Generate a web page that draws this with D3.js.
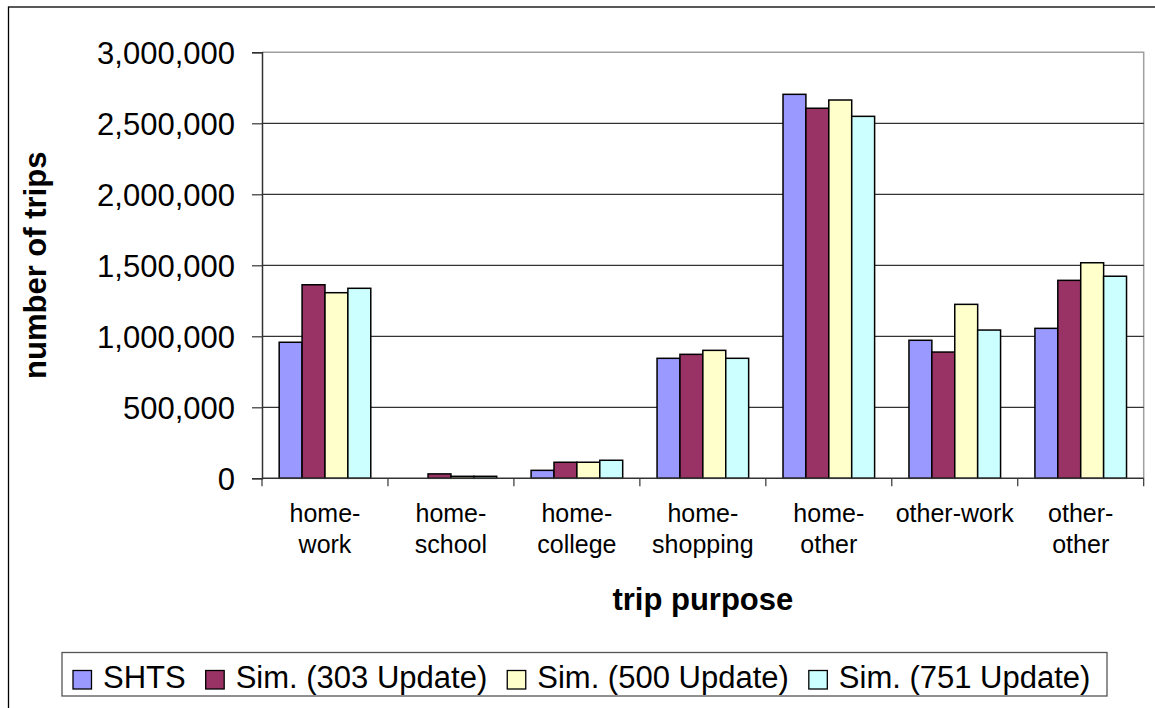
<!DOCTYPE html>
<html>
<head>
<meta charset="utf-8">
<script src="https://cdn.jsdelivr.net/npm/d3@7/dist/d3.min.js"></script>
<style>
  html, body { margin: 0; padding: 0; background: #fff; }
  svg { display: block; font-family: "Liberation Sans", Arial, sans-serif; }
</style>
</head>
<body>
<svg id="chart" width="1155" height="708"></svg>
<script>
// Trip counts by purpose: survey (SHTS) vs. simulation runs
const categories = ["home-work", "home-school", "home-college", "home-shopping", "home-other", "other-work", "other-other"];
const categoryLines = [["home-", "work"], ["home-", "school"], ["home-", "college"], ["home-", "shopping"], ["home-", "other"], ["other-work"], ["other-", "other"]];
const seriesNames = ["SHTS", "Sim. (303 Update)", "Sim. (500 Update)", "Sim. (751 Update)"];
const seriesColors = ["#9999FF", "#993366", "#FFFFCC", "#CCFFFF"];

const shts    = [958000, 0, 56000, 845000, 2704000, 972000, 1056000];
const sim303  = [1363000, 31000, 113000, 873000, 2606000, 889000, 1394000];
const sim500  = [1307000, 14000, 113000, 901000, 2664000, 1225000, 1518000];
const sim751  = [1338000, 14000, 127000, 845000, 2549000, 1044000, 1423000];
const seriesValues = [shts, sim303, sim500, sim751];

const yTicks = [0, 500000, 1000000, 1500000, 2000000, 2500000, 3000000];

const svg = d3.select("#chart");
const W = 1155, H = 708;
const plot = { left: 262, right: 1143.7, top: 52.3, bottom: 478.3 };

svg.append("rect").attr("width", W).attr("height", H).attr("fill", "#fff");

// outer chart frame
svg.append("rect")
  .attr("x", 8.5).attr("y", 7).attr("width", 1160).attr("height", 720)
  .attr("fill", "none").attr("stroke", "#000").attr("stroke-width", 1.3);

const x0 = d3.scaleBand().domain(categories).range([plot.left, plot.right]).padding(0);
const x1 = d3.scaleBand().domain(seriesNames).range([0, x0.bandwidth()])
  .paddingInner(0).paddingOuter(0.75);
const y = d3.scaleLinear().domain([0, 3000000]).range([plot.bottom, plot.top]);

// plot area border (top/right, grey)
svg.append("path")
  .attr("d", `M${plot.left},${plot.top}H${plot.right}V${plot.bottom}`)
  .attr("fill", "none").attr("stroke", "#a0a0a0").attr("stroke-width", 1.5);

// gridlines
svg.append("g").selectAll("line")
  .data(yTicks.filter(d => d > 0 && d < 3000000))
  .join("line")
  .attr("x1", plot.left).attr("x2", plot.right)
  .attr("y1", d => y(d)).attr("y2", d => y(d))
  .attr("stroke", "#000").attr("stroke-width", 1);

// bars
const barData = [];
categories.forEach((c, ci) => {
  seriesNames.forEach((s, si) => {
    barData.push({ cat: c, series: s, value: seriesValues[si][ci], color: seriesColors[si] });
  });
});
svg.append("g").selectAll("rect")
  .data(barData)
  .join("rect")
  .attr("x", d => x0(d.cat) + x1(d.series))
  .attr("width", x1.bandwidth())
  .attr("y", d => y(d.value))
  .attr("height", d => y(0) - y(d.value))
  .attr("fill", d => d.color)
  .attr("stroke", "#000").attr("stroke-width", 1.5);

// y axis
const yAxis = d3.axisLeft(y).tickValues(yTicks).tickSize(10).tickPadding(17)
  .tickFormat(d3.format(","));
const gy = svg.append("g").attr("transform", `translate(${plot.left},0)`).call(yAxis);
gy.select(".domain").attr("stroke", "#333").attr("stroke-width", 1.5);
gy.selectAll(".tick line").attr("stroke", "#333").attr("stroke-width", 1.2);
gy.selectAll(".tick text")
  .attr("font-size", 31).attr("fill", "#000")
  .attr("font-family", "'Liberation Sans', Arial, sans-serif")
  .attr("dy", "0.35em");

// x axis with ticks on category boundaries
const boundaries = categories.map(c => x0(c)).concat([plot.right]);
svg.append("line")
  .attr("x1", plot.left).attr("x2", plot.right)
  .attr("y1", plot.bottom).attr("y2", plot.bottom)
  .attr("stroke", "#333").attr("stroke-width", 1.5);
svg.append("g").selectAll("line")
  .data(boundaries)
  .join("line")
  .attr("x1", d => d).attr("x2", d => d)
  .attr("y1", plot.bottom).attr("y2", plot.bottom + 8)
  .attr("stroke", "#333").attr("stroke-width", 1.2);

// category labels
const labels = svg.append("g").attr("font-size", 25).attr("fill", "#000").attr("text-anchor", "middle");
categories.forEach((c, i) => {
  const t = labels.append("text").attr("x", x0(c) + x0.bandwidth() / 2).attr("y", 522);
  categoryLines[i].forEach((ln, j) => {
    t.append("tspan").attr("x", x0(c) + x0.bandwidth() / 2).attr("y", 522 + j * 31).text(ln);
  });
});

// axis titles
svg.append("text")
  .attr("x", (plot.left + plot.right) / 2).attr("y", 610)
  .attr("text-anchor", "middle").attr("font-size", 31).attr("font-weight", "bold")
  .text("trip purpose");
svg.append("text")
  .attr("transform", `translate(46,${(plot.top + plot.bottom) / 2}) rotate(-90)`)
  .attr("text-anchor", "middle").attr("font-size", 31).attr("font-weight", "bold")
  .text("number of trips");

// legend
const legend = svg.append("g");
legend.append("rect")
  .attr("x", 62).attr("y", 652.5).attr("width", 1045).attr("height", 43.5)
  .attr("fill", "#fff").attr("stroke", "#555").attr("stroke-width", 1.3);
let lx = 73;
seriesNames.forEach((s, i) => {
  legend.append("rect")
    .attr("x", lx).attr("y", 670.5).attr("width", 18.5).attr("height", 18.5)
    .attr("fill", seriesColors[i]).attr("stroke", "#000").attr("stroke-width", 1.3);
  const t = legend.append("text")
    .attr("x", lx + 30).attr("y", 688)
    .attr("font-size", 31).attr("fill", "#000").text(s);
  lx += 30 + t.node().getComputedTextLength() + 20;
});
</script>
</body>
</html>
